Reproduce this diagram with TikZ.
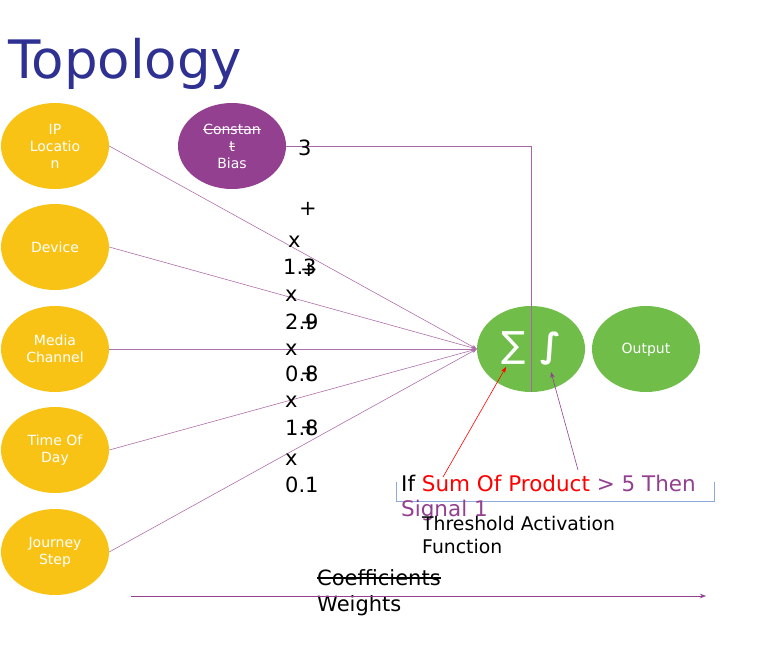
\documentclass[tikz,border=0pt]{standalone}
\usepackage{fontspec}
\setmainfont{DejaVu Sans}
\usetikzlibrary{shapes.geometric,arrows.meta}
\newcommand\mystrike[1]{\setbox0\hbox{#1}\rlap{\vrule height 0.36em depth -0.30em width \wd0}\box0}
\definecolor{yel}{HTML}{F9C316}
\definecolor{grn}{HTML}{70BD4A}
\definecolor{mp}{HTML}{934090}
\definecolor{ttl}{HTML}{2E3192}
\definecolor{brk}{HTML}{8EA9DB}
\tikzset{
  inball/.style={ellipse, fill=yel, minimum width=108pt, minimum height=86pt, inner sep=0pt, align=center, text=white, font=\fontsize{14}{17}\selectfont},
  biasball/.style={inball, fill=mp},
  gball/.style={inball, fill=grn},
  inedge/.style={draw=mp!75!white, line width=0.6pt, -{Stealth[length=5pt,width=4pt]}},
  lbl/.style={anchor=base west, inner sep=0pt, font=\fontsize{21}{25}\selectfont},
  smalllbl/.style={anchor=base west, inner sep=0pt, font=\fontsize{18.8}{23}\selectfont},
}
\begin{document}
\begin{tikzpicture}[x=1pt,y=-1pt]
\useasboundingbox (0,0) rectangle (776,645);
\node[anchor=base west, inner sep=0pt, text=ttl, font=\fontsize{53}{60}\selectfont] (title) at (8,78) {Topology};

\node[inball] (ip) at (55,146) {IP\\Locatio\\n};
\node[inball] (dev) at (55,247) {Device};
\node[inball] (media) at (55,349) {Media\\Channel};
\node[inball] (tod) at (55,450) {Time Of\\Day};
\node[inball] (js) at (55,552) {Journey\\Step};
\node[biasball] (bias) at (232,146) {\mystrike{Constan}\\\mystrike{t}\\Bias};
\node[gball] (sum) at (531,349) {};
\node[gball] (out) at (646,349) {};
\node[text=white, font=\fontsize{14}{17}\selectfont, inner sep=0pt] (outtxt) at (646,350) {Output};
\node[text=white, font=\fontsize{36}{40}\selectfont, inner sep=0pt] (sig) at (514,348) {∑};
\node[text=white, font=\bfseries\fontsize{34}{40}\selectfont, inner sep=0pt] (intg) at (551,349) {∫};

\draw[inedge] (ip.east) -- (sum.west);
\draw[inedge] (dev.east) -- (sum.west);
\draw[inedge] (media.east) -- (sum.west);
\draw[inedge] (tod.east) -- (sum.west);
\draw[inedge] (js.east) -- (sum.west);
\draw[draw=mp!80!white, line width=0.7pt] (bias.east) -- (sum.north |- bias.east) -- (sum.south);

% coefficient labels
\node[lbl] (c3) at (298,155) {3};
\node[lbl] (p1) at (299,215) {+};
\node[lbl] (p2) at (300,276) {+};
\node[lbl] (p3) at (300,329) {+};
\node[lbl] (p4) at (300,380) {+};
\node[lbl] (p5) at (300,434) {+};
\node[lbl] (x1) at (288,247) {x};
\node[lbl] (n1) at (283,274) {1.3};
\node[lbl] (x2) at (285,301) {x};
\node[lbl] (n2) at (285,329) {2.9};
\node[lbl] (x3) at (285,355) {x};
\node[lbl] (n3) at (285,381) {0.8};
\node[lbl] (x4) at (285,407) {x};
\node[lbl] (n4) at (285,435) {1.8};
\node[lbl] (x5) at (285,465) {x};
\node[lbl] (n5) at (285,492) {0.1};

% bracket
\coordinate (b1) at (396,482);
\coordinate (b2) at (396,501);
\coordinate (b3) at (714,501);
\coordinate (b4) at (714,482);
\draw[brk, line width=0.7pt] (b1) -- (b2) -- (b3) -- (b4);

\node[lbl, font=\fontsize{21.5}{25}\selectfont] (rule1) at (401,491) {If {\color{red}Sum Of Product} {\color{mp}> 5 Then}};
\node[lbl, font=\fontsize{21.5}{25}\selectfont, text=mp] (rule2) at (401,516) {Signal 1};
\node[smalllbl] (th1) at (422,530) {Threshold Activation};
\node[smalllbl] (th2) at (422,553) {Function};

\coordinate (ra) at (443,477);
\coordinate (pa) at (578,470);
\coordinate (rb) at (506,367);
\coordinate (pb) at (551,372);
\draw[red, line width=0.6pt, -{Stealth[length=6pt,width=4.5pt]}] (ra) -- (rb);
\draw[mp, line width=0.6pt, -{Stealth[length=6pt,width=4.5pt]}] (pa) -- (pb);

\node[lbl] (coef) at (317,585) {\mystrike{Coefficients}};
\node[lbl] (wts) at (317,611) {Weights};
\coordinate (wa) at (131,596);
\coordinate (wb) at (706,596);
\draw[mp, line width=0.6pt, -{Stealth[length=6pt,width=4.5pt]}] (wa) -- (wb);
\end{tikzpicture}
\end{document}
